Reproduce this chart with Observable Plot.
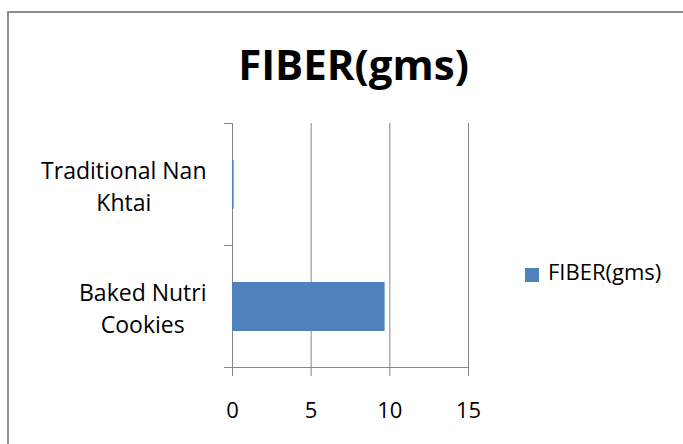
<!DOCTYPE html>
<html>
<head>
<meta charset="utf-8">
<script src="https://cdn.jsdelivr.net/npm/d3@7"></script>
<script src="https://cdn.jsdelivr.net/npm/@observablehq/plot@0.6"></script>
<style>
  html, body { margin: 0; padding: 0; background: #fff; }
  #chart { width: 683px; height: 444px; overflow: hidden; }
</style>
</head>
<body>
<div id="chart"></div>
<script>
// Fiber content per product
const categories = ["Traditional Nan Khtai", "Baked Nutri Cookies"];
const fiber = [0.1, 9.7];
const xTicks = [0, 5, 10, 15];
const seriesName = "FIBER(gms)";
const titleText = "FIBER(gms)";

const BAR = "#4F81BD";
const GRID = "#868686";
const FONT = "'Open Sans', sans-serif";

const data = categories.map((category, i) => ({category, value: fiber[i]}));

// Break a category name before its last word
const wrap = (s) => {
  const k = s.lastIndexOf(" ");
  return k > 0 ? s.slice(0, k) + "\n" + s.slice(k + 1) : s;
};

const W = 683, H = 444;
const M = {left: 232, right: 215, top: 123, bottom: 77};

const plot = Plot.plot({
  width: W,
  height: H,
  marginLeft: M.left,
  marginRight: M.right,
  marginTop: M.top,
  marginBottom: M.bottom,
  style: {fontFamily: FONT, background: "#fff", color: "#000", overflow: "visible"},
  x: {domain: [xTicks[0], xTicks[xTicks.length - 1]], axis: null},
  y: {domain: categories, paddingInner: 0.6, paddingOuter: 0.3, axis: null},
  marks: [
    Plot.gridX(xTicks.filter((t) => t > 0), {stroke: GRID, strokeOpacity: 1}),
    Plot.ruleX([0], {stroke: GRID}),
    Plot.barX(data, {x: "value", y: "category", fill: BAR}),
    Plot.axisX(xTicks, {
      anchor: "bottom",
      tickSize: 9,
      tickPadding: 26,
      fontSize: 22,
      stroke: GRID,
      fill: "#000",
      label: null,
      tickFormat: (d) => String(d)
    }),
    Plot.text(data, {
      y: "category",
      text: (d) => wrap(d.category),
      frameAnchor: "left",
      textAnchor: "end",
      dx: -26,
      fontSize: 23,
      lineHeight: 1.36,
      fill: "#000"
    }),
    Plot.text([titleText], {
      frameAnchor: "top",
      dx: 3,
      dy: -73,
      fontSize: 42,
      fontWeight: "bold",
      fill: "#000"
    })
  ]
});

document.getElementById("chart").appendChild(plot);

const svg = d3.select(plot);
const xs = plot.scale("x");
const ys = plot.scale("y");
const x0 = xs.apply(0);
const xEnd = xs.apply(xTicks[xTicks.length - 1]);

// Category boundary ticks on the value axis
const n = categories.length;
const step = ys.step ?? (ys.range[1] - ys.range[0]) / (n - ys.paddingInner + 2 * ys.paddingOuter);
const bw = ys.bandwidth;
const bounds = categories.map((c) => ys.apply(c) - (step - bw) / 2);
bounds.push(ys.apply(categories[n - 1]) + bw + (step - bw) / 2);
const yBottom = bounds[bounds.length - 1];

const axisG = svg.append("g").attr("stroke", GRID).attr("stroke-width", 1);
bounds.forEach((b) => {
  axisG.append("line")
    .attr("x1", x0 - 8).attr("x2", x0)
    .attr("y1", b).attr("y2", b);
});
// Category axis baseline
axisG.append("line")
  .attr("x1", x0 - 8).attr("x2", xEnd)
  .attr("y1", yBottom).attr("y2", yBottom);

// Center each label's lines inside its right-aligned block
const labelTexts = new Set(categories.map((c) => wrap(c).replace("\n", "")));
svg.selectAll("text")
  .filter(function () { return labelTexts.has(this.textContent); })
  .each(function () {
    const w = this.getBBox().width;
    const t = d3.select(this);
    const tr = t.attr("transform") || "";
    t.attr("text-anchor", "middle").attr("transform", `${tr} translate(${-w / 2},0)`);
  });

// Legend
const lg = svg.append("g").attr("font-family", FONT).attr("text-anchor", "start");
lg.append("rect")
  .attr("x", 525).attr("y", 268).attr("width", 14).attr("height", 14)
  .attr("fill", BAR);
lg.append("text")
  .attr("x", 548).attr("y", 280)
  .attr("font-size", 22).attr("fill", "#000")
  .text(seriesName);

// Chart area border
svg.append("rect")
  .attr("x", 8).attr("y", 12)
  .attr("width", W + 20).attr("height", H + 20)
  .attr("fill", "none")
  .attr("stroke", "#8e8e8e")
  .attr("stroke-width", 2);
</script>
</body>
</html>
